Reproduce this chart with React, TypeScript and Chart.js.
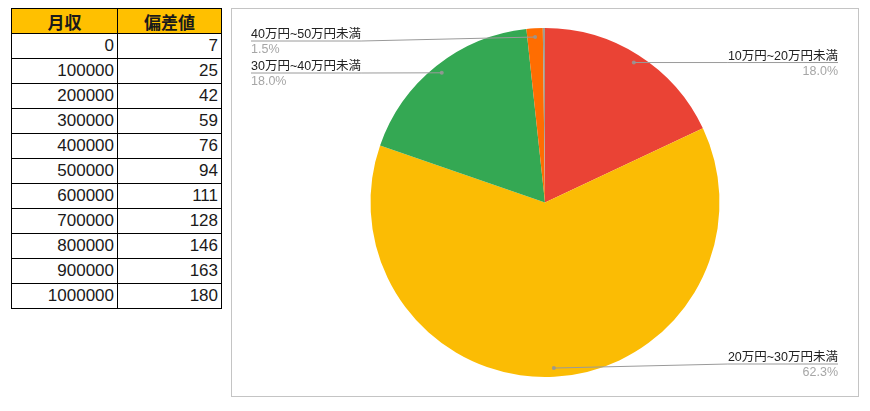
import React, { useEffect, useRef } from 'react';
import { Chart, registerables } from 'chart.js';

Chart.register(...registerables);

const incomes = [0, 100000, 200000, 300000, 400000, 500000, 600000, 700000, 800000, 900000, 1000000];
const scores = [7, 25, 42, 59, 76, 94, 111, 128, 146, 163, 180];

const sliceLabels = ['10万円~20万円未満', '20万円~30万円未満', '30万円~40万円未満', '40万円~50万円未満', '50万円以上'];
const sliceValues = [18.0, 62.3, 18.0, 1.5, 0.2];
const sliceColors = ['#ea4335', '#fbbc04', '#34a853', '#ff6d01', '#a39b8f'];

const FONT = '"Liberation Sans", Arial, "Noto Sans CJK JP", sans-serif';

// outside labels with leader lines, like Google Sheets
const calloutPlugin = {
  id: 'callouts',
  afterDatasetsDraw(chart: any) {
    const ctx = chart.ctx as CanvasRenderingContext2D;
    const meta = chart.getDatasetMeta(0);
    const data = chart.data.datasets[0].data as number[];
    const total = data.reduce((a, b) => a + b, 0);
    const W = chart.width;
    const H = chart.height;
    const items: any[] = [];
    meta.data.forEach((arc: any, i: number) => {
      const pct = (data[i] / total) * 100;
      if (pct < 1) return;
      const mid = (arc.startAngle + arc.endAngle) / 2;
      const r = arc.outerRadius * 0.95;
      items.push({
        label: chart.data.labels[i],
        pct: pct.toFixed(1) + '%',
        ax: arc.x + Math.cos(mid) * r,
        ay: arc.y + Math.sin(mid) * r,
        right: Math.cos(mid) >= 0,
      });
    });
    const place = (list: any[]) => {
      list.sort((a, b) => a.ay - b.ay);
      let prev = -Infinity;
      list.forEach((it) => {
        let y = Math.max(32, it.ay, prev + 32);
        y = Math.min(y, H - 32);
        it.ly = y;
        prev = y;
      });
    };
    place(items.filter((it) => it.right));
    place(items.filter((it) => !it.right));

    ctx.save();
    ctx.font = '12.5px ' + FONT;
    items.forEach((it) => {
      const tw = ctx.measureText(it.label).width;
      const x0 = it.right ? W - 20 - tw : 19;
      const x1 = it.right ? W - 20 : 19 + tw;
      ctx.strokeStyle = '#9a9a9a';
      ctx.lineWidth = 1;
      ctx.beginPath();
      if (it.right) {
        ctx.moveTo(it.ax, it.ay);
        ctx.lineTo(x0, it.ly);
        ctx.lineTo(x1, it.ly);
      } else {
        ctx.moveTo(x0, it.ly);
        ctx.lineTo(x1, it.ly);
        ctx.lineTo(it.ax, it.ay);
      }
      ctx.stroke();
      ctx.fillStyle = 'rgba(150,150,150,0.9)';
      ctx.beginPath();
      ctx.arc(it.ax, it.ay, 2, 0, Math.PI * 2);
      ctx.fill();

      ctx.textAlign = it.right ? 'right' : 'left';
      ctx.textBaseline = 'alphabetic';
      const tx = it.right ? x1 : x0;
      ctx.fillStyle = '#222222';
      ctx.fillText(it.label, tx, it.ly - 3);
      ctx.fillStyle = '#a6a6a6';
      ctx.fillText(it.pct, tx, it.ly + 12);
    });
    ctx.restore();
  },
};

const PieChart: React.FC = () => {
  const canvasRef = useRef<HTMLCanvasElement>(null);
  const chartRef = useRef<Chart | null>(null);

  useEffect(() => {
    if (!canvasRef.current) return;
    if (chartRef.current) chartRef.current.destroy();
    chartRef.current = new Chart(canvasRef.current, {
      type: 'pie',
      data: {
        labels: sliceLabels,
        datasets: [{
          data: sliceValues,
          backgroundColor: sliceColors,
          borderWidth: 0,
        }],
      },
      options: {
        animation: false,
        responsive: false,
        devicePixelRatio: 1,
        layout: { padding: { top: 19, bottom: 19, left: 0, right: 0 } },
        plugins: {
          legend: { display: false },
          tooltip: { enabled: false },
        },
      },
      plugins: [calloutPlugin],
    } as any);
    return () => {
      if (chartRef.current) {
        chartRef.current.destroy();
        chartRef.current = null;
      }
    };
  }, []);

  return (
    <div style={{ position: 'absolute', left: 231, top: 8, width: 626, height: 387, border: '1px solid #c4c4c4', background: '#fff' }}>
      <canvas ref={canvasRef} width={626} height={387} style={{ display: 'block', width: 626, height: 387 }} />
    </div>
  );
};

const cell: React.CSSProperties = {
  background: '#fff',
  fontFamily: FONT,
  fontSize: 17,
  color: '#1a1a1a',
  display: 'flex',
  alignItems: 'center',
  justifyContent: 'flex-end',
  paddingRight: 3,
};

const headCell: React.CSSProperties = {
  ...cell,
  background: '#ffc000',
  fontWeight: 'bold',
  justifyContent: 'center',
  paddingRight: 0,
};

const App: React.FC = () => {
  return (
    <div style={{ position: 'absolute', left: 0, top: 0, width: 870, height: 411, background: '#fff' }}>
      <div
        style={{
          position: 'absolute',
          left: 11,
          top: 8,
          display: 'grid',
          gridTemplateColumns: '105px 103px',
          gridAutoRows: '24px',
          gap: 1,
          border: '1px solid #000',
          background: '#000',
        }}
      >
        <div style={headCell}>月収</div>
        <div style={headCell}>偏差値</div>
        {incomes.map((v, i) => (
          <React.Fragment key={i}>
            <div style={cell}>{v}</div>
            <div style={cell}>{scores[i]}</div>
          </React.Fragment>
        ))}
      </div>
      <PieChart />
    </div>
  );
};

export default App;
